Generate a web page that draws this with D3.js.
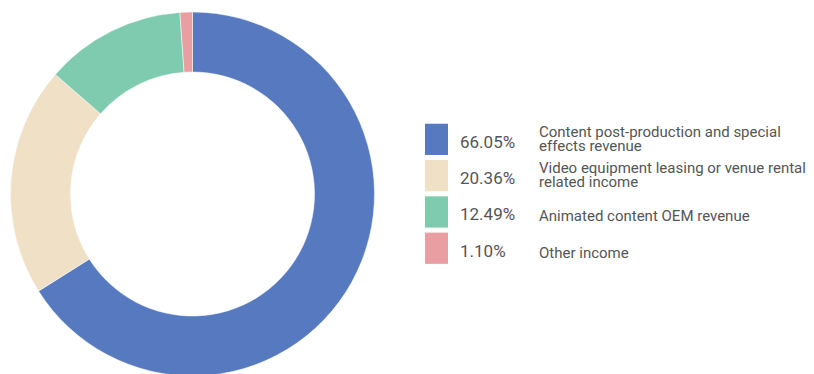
<!DOCTYPE html>
<html><head><meta charset="utf-8">
<script src="https://cdn.jsdelivr.net/npm/d3@7"></script>
<style>
html,body{margin:0;padding:0;background:#fff;}
svg{display:block;}
text{font-family:Roboto,"Open Sans",sans-serif;fill:#555;}
</style></head>
<body><svg id="c" width="814" height="374"></svg>
<script>
const categories = ["Content post-production and special effects revenue","Video equipment leasing or venue rental related income","Animated content OEM revenue","Other income"];
const labelLines = [["Content post-production and special","effects revenue"],["Video equipment leasing or venue rental","related income"],["Animated content OEM revenue"],["Other income"]];
const values = [66.05, 20.36, 12.49, 1.10];
const colors = ["#5679bf","#f0e0c5","#7fcbaf","#e99ea1"];

const svg = d3.select("#c");
const cx = 192.5, cy = 194, rOuter = 182, rInner = 122;
const pie = d3.pie().sort(null).value(d => d)(values);
const arc = d3.arc().innerRadius(rInner).outerRadius(rOuter);
svg.append("g").attr("transform",`translate(${cx},${cy})`)
  .selectAll("path").data(pie).join("path")
  .attr("d", arc).attr("fill", (d,i)=>colors[i])
  .attr("stroke","#fff").attr("stroke-width",0.5);

const y = d3.scaleBand().domain(d3.range(values.length)).range([121.2,266.4]).paddingInner(0.14).paddingOuter(0.07);
const lg = svg.append("g");
const rows = lg.selectAll("g").data(values).join("g")
  .attr("transform",(d,i)=>`translate(0,${y(i)})`);
const h = y.bandwidth();
rows.append("rect").attr("x",425).attr("y",0).attr("width",23).attr("height",h)
  .attr("fill",(d,i)=>colors[i]);
rows.append("text").attr("x",460).attr("y",h/2+8.4)
  .style("font-size","17px").text(d=>d.toFixed(2)+"%");
rows.append("text").attr("x",539).style("font-size","15px")
  .each(function(d,i){
    const L = labelLines[i];
    const t = d3.select(this);
    if(L.length===1){
      t.append("tspan").attr("x",539).attr("y",h/2+9.4).text(L[0]);
    } else {
      t.append("tspan").attr("x",539).attr("y",h/2-2.7).text(L[0]);
      t.append("tspan").attr("x",539).attr("y",h/2+11.7).text(L[1]);
    }
  });
</script></body></html>
